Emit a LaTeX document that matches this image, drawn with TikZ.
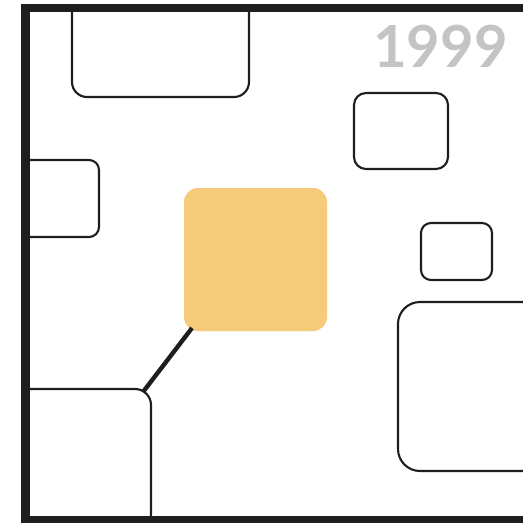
\documentclass[tikz,border=0pt]{standalone}
\usepackage{fontspec}
\newfontfamily\yearfont{Lato}
\usetikzlibrary{calc}
\definecolor{ink}{HTML}{1E1E1E}
\definecolor{gold}{HTML}{F5CA78}
\definecolor{yeargray}{HTML}{C4C4C4}
\begin{document}
\begin{tikzpicture}[x=1pt,y=-1pt,
  box/.style={draw=ink, line width=2.1pt, fill=white, inner sep=0pt, outer sep=0pt, anchor=north west},
  hot/.style={fill=gold, inner sep=0pt, outer sep=0pt, anchor=north west, rounded corners=14pt, minimum width=143pt, minimum height=143pt},
  conn/.style={draw=ink, line width=4.4pt}]
\useasboundingbox (0,0) rectangle (523,523);
\fill[white] (0,0) rectangle (523,523);
\begin{scope}
\clip (25.5,8) rectangle (523,520);
% boxes
\node[box, rounded corners=15pt, minimum width=177pt, minimum height=107pt] (tl) at (72,-10) {};
\node[box, rounded corners=10pt, minimum width=89pt, minimum height=77pt] (lm) at (10,160) {};
\node[box, rounded corners=16pt, minimum width=141pt, minimum height=141pt] (bl) at (10,389) {};
\node[box, rounded corners=12pt, minimum width=94pt, minimum height=76pt] (tr) at (354,93) {};
\node[box, rounded corners=10pt, minimum width=71pt, minimum height=57pt] (mr) at (421,223) {};
\node[box, rounded corners=22pt, minimum width=162pt, minimum height=169pt] (br) at (398,302) {};
\node[hot] (org) at (184,188) {};
% connector
\draw[conn] ($(org.south west)+(8,-3)$) -- ($(bl.north east)+(-8,3)$);
\end{scope}
% year
\node[anchor=base east, inner sep=0pt, text=yeargray, font=\yearfont\bfseries\fontsize{58}{58}\selectfont] (year) at (508,67) {1999};
% frame
\draw[ink, line width=8.6pt] (540,8) -- (25.5,8) -- (25.5,520) -- (540,520);
\end{tikzpicture}
\end{document}
